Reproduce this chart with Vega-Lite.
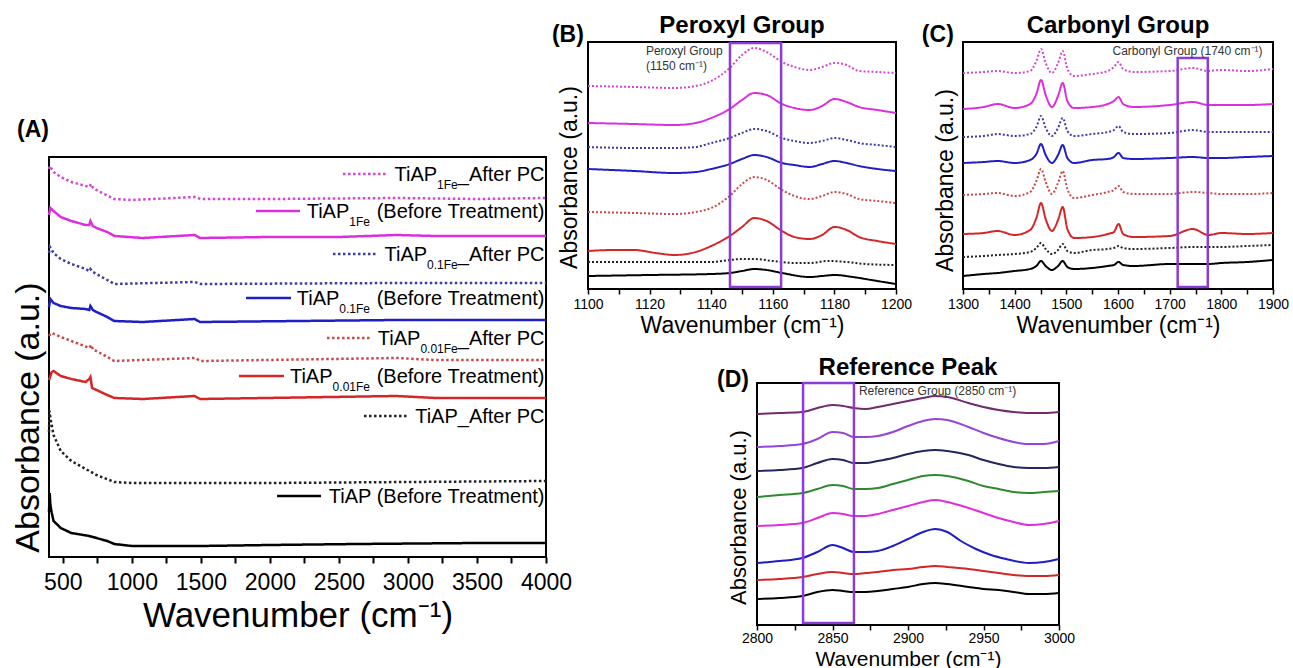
{
"$schema": "https://vega.github.io/schema/vega-lite/v6.json",
"padding": {"left": 11, "top": 13, "right": 0, "bottom": 0},
"config": {
 "font": "Liberation Sans",
 "view": {"stroke": "black", "strokeWidth": 2},
 "axis": {"grid": false, "domain": false, "labelFont": "Liberation Sans", "titleFont": "Liberation Sans", "titleFontWeight": "normal", "labelColor": "black", "titleColor": "black", "tickColor": "black", "labelFlush": false, "labelOverlap": false},
 "title": {"font": "Liberation Sans", "color": "black"},
 "text": {"font": "Liberation Sans", "color": "black"}
},
"datasets": {
 "A_lines": [
{"s":"1Fe-PC","x":400,"y":3.88},{"s":"1Fe-PC","x":407,"y":3.91},{"s":"1Fe-PC","x":433,"y":3.85},{"s":"1Fe-PC","x":485,"y":3.80},{"s":"1Fe-PC","x":562,"y":3.75},{"s":"1Fe-PC","x":640,"y":3.72},{"s":"1Fe-PC","x":692,"y":3.70},{"s":"1Fe-PC","x":705,"y":3.73},{"s":"1Fe-PC","x":720,"y":3.69},{"s":"1Fe-PC","x":744,"y":3.67},{"s":"1Fe-PC","x":800,"y":3.63},{"s":"1Fe-PC","x":873,"y":3.58},{"s":"1Fe-PC","x":1000,"y":3.57},{"s":"1Fe-PC","x":1455,"y":3.60},{"s":"1Fe-PC","x":1500,"y":3.58},{"s":"1Fe-PC","x":2000,"y":3.58},{"s":"1Fe-PC","x":2917,"y":3.59},{"s":"1Fe-PC","x":3500,"y":3.58},{"s":"1Fe-PC","x":4000,"y":3.59},
{"s":"1Fe","x":400,"y":3.42},{"s":"1Fe","x":410,"y":3.49},{"s":"1Fe","x":433,"y":3.46},{"s":"1Fe","x":485,"y":3.40},{"s":"1Fe","x":562,"y":3.36},{"s":"1Fe","x":665,"y":3.32},{"s":"1Fe","x":692,"y":3.32},{"s":"1Fe","x":700,"y":3.36},{"s":"1Fe","x":718,"y":3.31},{"s":"1Fe","x":744,"y":3.29},{"s":"1Fe","x":822,"y":3.25},{"s":"1Fe","x":873,"y":3.21},{"s":"1Fe","x":1080,"y":3.19},{"s":"1Fe","x":1455,"y":3.22},{"s":"1Fe","x":1494,"y":3.19},{"s":"1Fe","x":2000,"y":3.20},{"s":"1Fe","x":2500,"y":3.20},{"s":"1Fe","x":2917,"y":3.22},{"s":"1Fe","x":3200,"y":3.21},{"s":"1Fe","x":4000,"y":3.21},
{"s":"0.1Fe-PC","x":400,"y":3.04},{"s":"0.1Fe-PC","x":407,"y":3.10},{"s":"0.1Fe-PC","x":433,"y":3.04},{"s":"0.1Fe-PC","x":485,"y":2.98},{"s":"0.1Fe-PC","x":562,"y":2.93},{"s":"0.1Fe-PC","x":665,"y":2.88},{"s":"0.1Fe-PC","x":692,"y":2.86},{"s":"0.1Fe-PC","x":700,"y":2.88},{"s":"0.1Fe-PC","x":718,"y":2.85},{"s":"0.1Fe-PC","x":744,"y":2.83},{"s":"0.1Fe-PC","x":822,"y":2.77},{"s":"0.1Fe-PC","x":873,"y":2.73},{"s":"0.1Fe-PC","x":1455,"y":2.75},{"s":"0.1Fe-PC","x":1500,"y":2.73},{"s":"0.1Fe-PC","x":2917,"y":2.74},{"s":"0.1Fe-PC","x":4000,"y":2.74},
{"s":"0.1Fe","x":400,"y":2.50},{"s":"0.1Fe","x":410,"y":2.58},{"s":"0.1Fe","x":433,"y":2.54},{"s":"0.1Fe","x":485,"y":2.51},{"s":"0.1Fe","x":562,"y":2.49},{"s":"0.1Fe","x":665,"y":2.48},{"s":"0.1Fe","x":692,"y":2.47},{"s":"0.1Fe","x":700,"y":2.51},{"s":"0.1Fe","x":718,"y":2.47},{"s":"0.1Fe","x":744,"y":2.45},{"s":"0.1Fe","x":822,"y":2.40},{"s":"0.1Fe","x":873,"y":2.36},{"s":"0.1Fe","x":1080,"y":2.35},{"s":"0.1Fe","x":1455,"y":2.38},{"s":"0.1Fe","x":1494,"y":2.35},{"s":"0.1Fe","x":2917,"y":2.37},{"s":"0.1Fe","x":4000,"y":2.37},
{"s":"0.01Fe-PC","x":400,"y":2.21},{"s":"0.01Fe-PC","x":420,"y":2.24},{"s":"0.01Fe-PC","x":485,"y":2.20},{"s":"0.01Fe-PC","x":562,"y":2.16},{"s":"0.01Fe-PC","x":692,"y":2.09},{"s":"0.01Fe-PC","x":705,"y":2.12},{"s":"0.01Fe-PC","x":720,"y":2.07},{"s":"0.01Fe-PC","x":744,"y":2.06},{"s":"0.01Fe-PC","x":822,"y":2.00},{"s":"0.01Fe-PC","x":873,"y":1.96},{"s":"0.01Fe-PC","x":1455,"y":1.99},{"s":"0.01Fe-PC","x":1500,"y":1.96},{"s":"0.01Fe-PC","x":2917,"y":1.99},{"s":"0.01Fe-PC","x":3200,"y":1.97},{"s":"0.01Fe-PC","x":4000,"y":1.97},
{"s":"0.01Fe","x":400,"y":1.77},{"s":"0.01Fe","x":420,"y":1.85},{"s":"0.01Fe","x":433,"y":1.86},{"s":"0.01Fe","x":485,"y":1.81},{"s":"0.01Fe","x":562,"y":1.78},{"s":"0.01Fe","x":665,"y":1.75},{"s":"0.01Fe","x":692,"y":1.78},{"s":"0.01Fe","x":700,"y":1.80},{"s":"0.01Fe","x":712,"y":1.69},{"s":"0.01Fe","x":744,"y":1.67},{"s":"0.01Fe","x":822,"y":1.62},{"s":"0.01Fe","x":873,"y":1.59},{"s":"0.01Fe","x":1080,"y":1.58},{"s":"0.01Fe","x":1455,"y":1.61},{"s":"0.01Fe","x":1494,"y":1.58},{"s":"0.01Fe","x":2917,"y":1.61},{"s":"0.01Fe","x":3200,"y":1.59},{"s":"0.01Fe","x":4000,"y":1.59},
{"s":"TiAP-PC","x":400,"y":1.25},{"s":"TiAP-PC","x":404,"y":1.46},{"s":"TiAP-PC","x":410,"y":1.39},{"s":"TiAP-PC","x":433,"y":1.22},{"s":"TiAP-PC","x":485,"y":1.06},{"s":"TiAP-PC","x":562,"y":0.96},{"s":"TiAP-PC","x":692,"y":0.86},{"s":"TiAP-PC","x":744,"y":0.82},{"s":"TiAP-PC","x":873,"y":0.75},{"s":"TiAP-PC","x":1000,"y":0.74},{"s":"TiAP-PC","x":2000,"y":0.74},{"s":"TiAP-PC","x":4000,"y":0.76},
{"s":"TiAP","x":400,"y":0.45},{"s":"TiAP","x":405,"y":0.64},{"s":"TiAP","x":410,"y":0.52},{"s":"TiAP","x":420,"y":0.44},{"s":"TiAP","x":433,"y":0.36},{"s":"TiAP","x":485,"y":0.29},{"s":"TiAP","x":562,"y":0.24},{"s":"TiAP","x":692,"y":0.21},{"s":"TiAP","x":822,"y":0.16},{"s":"TiAP","x":873,"y":0.13},{"s":"TiAP","x":1000,"y":0.11},{"s":"TiAP","x":1500,"y":0.11},{"s":"TiAP","x":2000,"y":0.12},{"s":"TiAP","x":2630,"y":0.13},{"s":"TiAP","x":3500,"y":0.14},{"s":"TiAP","x":4000,"y":0.14}
 ],
 "A_leg": [
{"s":"1Fe-PC","x":2530,"x2":2856,"y":3.83},{"s":"1Fe","x":1899,"x2":2218,"y":3.46},{"s":"0.1Fe-PC","x":2457,"x2":2783,"y":3.03},{"s":"0.1Fe","x":1827,"x2":2153,"y":2.59},{"s":"0.01Fe-PC","x":2414,"x2":2740,"y":2.19},{"s":"0.01Fe","x":1776,"x2":2102,"y":1.81},{"s":"TiAP-PC","x":2682,"x2":3008,"y":1.41},{"s":"TiAP","x":2052,"x2":2370,"y":0.61}
 ],
 "A_txt": [
{"t":"TiAP","x":3211,"y":3.83},{"t":"_After PC","x":3989,"y":3.83},
{"t":"TiAP","x":2575,"y":3.46},{"t":"(Before Treatment)","x":3989,"y":3.46},
{"t":"TiAP","x":3139,"y":3.03},{"t":"_After PC","x":3989,"y":3.03},
{"t":"TiAP","x":2503,"y":2.59},{"t":"(Before Treatment)","x":3989,"y":2.59},
{"t":"TiAP","x":3090,"y":2.19},{"t":"_After PC","x":3989,"y":2.19},
{"t":"TiAP","x":2454,"y":1.81},{"t":"(Before Treatment)","x":3989,"y":1.81},
{"t":"TiAP_After PC","x":3989,"y":1.41},
{"t":"TiAP (Before Treatment)","x":3989,"y":0.61}
 ],
 "A_sub": [
{"t":"1Fe","x":3361,"y":3.83},{"t":"1Fe","x":2725,"y":3.46},{"t":"0.1Fe","x":3361,"y":3.03},{"t":"0.1Fe","x":2725,"y":2.59},{"t":"0.01Fe","x":3361,"y":2.19},{"t":"0.01Fe","x":2725,"y":1.81}
 ],
 "B_lines": [
{"s":"1Fe-PC","x":1100,"y":2.03},{"s":"1Fe-PC","x":1115,"y":2.02},{"s":"1Fe-PC","x":1128,"y":2.01},{"s":"1Fe-PC","x":1135,"y":2.03},{"s":"1Fe-PC","x":1140,"y":2.08},{"s":"1Fe-PC","x":1146,"y":2.21},{"s":"1Fe-PC","x":1150,"y":2.34},{"s":"1Fe-PC","x":1154,"y":2.41},{"s":"1Fe-PC","x":1158,"y":2.37},{"s":"1Fe-PC","x":1163,"y":2.27},{"s":"1Fe-PC","x":1167,"y":2.22},{"s":"1Fe-PC","x":1172,"y":2.19},{"s":"1Fe-PC","x":1176,"y":2.22},{"s":"1Fe-PC","x":1180,"y":2.26},{"s":"1Fe-PC","x":1184,"y":2.24},{"s":"1Fe-PC","x":1188,"y":2.18},{"s":"1Fe-PC","x":1194,"y":2.17},{"s":"1Fe-PC","x":1200,"y":2.16},
{"s":"1Fe","x":1100,"y":1.66},{"s":"1Fe","x":1115,"y":1.65},{"s":"1Fe","x":1128,"y":1.64},{"s":"1Fe","x":1135,"y":1.66},{"s":"1Fe","x":1140,"y":1.71},{"s":"1Fe","x":1146,"y":1.80},{"s":"1Fe","x":1150,"y":1.89},{"s":"1Fe","x":1154,"y":1.96},{"s":"1Fe","x":1158,"y":1.94},{"s":"1Fe","x":1163,"y":1.85},{"s":"1Fe","x":1167,"y":1.81},{"s":"1Fe","x":1172,"y":1.79},{"s":"1Fe","x":1176,"y":1.83},{"s":"1Fe","x":1180,"y":1.90},{"s":"1Fe","x":1184,"y":1.87},{"s":"1Fe","x":1188,"y":1.82},{"s":"1Fe","x":1194,"y":1.79},{"s":"1Fe","x":1200,"y":1.76},
{"s":"0.1Fe-PC","x":1100,"y":1.42},{"s":"0.1Fe-PC","x":1115,"y":1.41},{"s":"0.1Fe-PC","x":1128,"y":1.41},{"s":"0.1Fe-PC","x":1135,"y":1.42},{"s":"0.1Fe-PC","x":1140,"y":1.46},{"s":"0.1Fe-PC","x":1146,"y":1.51},{"s":"0.1Fe-PC","x":1150,"y":1.56},{"s":"0.1Fe-PC","x":1154,"y":1.60},{"s":"0.1Fe-PC","x":1158,"y":1.58},{"s":"0.1Fe-PC","x":1163,"y":1.51},{"s":"0.1Fe-PC","x":1167,"y":1.48},{"s":"0.1Fe-PC","x":1172,"y":1.46},{"s":"0.1Fe-PC","x":1176,"y":1.48},{"s":"0.1Fe-PC","x":1180,"y":1.51},{"s":"0.1Fe-PC","x":1184,"y":1.49},{"s":"0.1Fe-PC","x":1188,"y":1.46},{"s":"0.1Fe-PC","x":1194,"y":1.44},{"s":"0.1Fe-PC","x":1200,"y":1.42},
{"s":"0.1Fe","x":1100,"y":1.20},{"s":"0.1Fe","x":1115,"y":1.18},{"s":"0.1Fe","x":1128,"y":1.16},{"s":"0.1Fe","x":1135,"y":1.17},{"s":"0.1Fe","x":1140,"y":1.20},{"s":"0.1Fe","x":1146,"y":1.25},{"s":"0.1Fe","x":1150,"y":1.30},{"s":"0.1Fe","x":1154,"y":1.34},{"s":"0.1Fe","x":1158,"y":1.32},{"s":"0.1Fe","x":1163,"y":1.26},{"s":"0.1Fe","x":1167,"y":1.24},{"s":"0.1Fe","x":1172,"y":1.22},{"s":"0.1Fe","x":1176,"y":1.25},{"s":"0.1Fe","x":1180,"y":1.28},{"s":"0.1Fe","x":1184,"y":1.26},{"s":"0.1Fe","x":1188,"y":1.23},{"s":"0.1Fe","x":1194,"y":1.20},{"s":"0.1Fe","x":1200,"y":1.18},
{"s":"0.01Fe-PC","x":1100,"y":0.77},{"s":"0.01Fe-PC","x":1115,"y":0.76},{"s":"0.01Fe-PC","x":1128,"y":0.75},{"s":"0.01Fe-PC","x":1135,"y":0.77},{"s":"0.01Fe-PC","x":1140,"y":0.81},{"s":"0.01Fe-PC","x":1146,"y":0.93},{"s":"0.01Fe-PC","x":1150,"y":1.05},{"s":"0.01Fe-PC","x":1154,"y":1.12},{"s":"0.01Fe-PC","x":1158,"y":1.09},{"s":"0.01Fe-PC","x":1163,"y":0.99},{"s":"0.01Fe-PC","x":1167,"y":0.93},{"s":"0.01Fe-PC","x":1172,"y":0.90},{"s":"0.01Fe-PC","x":1176,"y":0.93},{"s":"0.01Fe-PC","x":1180,"y":0.97},{"s":"0.01Fe-PC","x":1184,"y":0.95},{"s":"0.01Fe-PC","x":1188,"y":0.90},{"s":"0.01Fe-PC","x":1194,"y":0.88},{"s":"0.01Fe-PC","x":1200,"y":0.86},
{"s":"0.01Fe","x":1100,"y":0.38},{"s":"0.01Fe","x":1108,"y":0.39},{"s":"0.01Fe","x":1115,"y":0.39},{"s":"0.01Fe","x":1122,"y":0.36},{"s":"0.01Fe","x":1128,"y":0.34},{"s":"0.01Fe","x":1135,"y":0.37},{"s":"0.01Fe","x":1140,"y":0.43},{"s":"0.01Fe","x":1146,"y":0.53},{"s":"0.01Fe","x":1150,"y":0.62},{"s":"0.01Fe","x":1154,"y":0.71},{"s":"0.01Fe","x":1158,"y":0.68},{"s":"0.01Fe","x":1163,"y":0.58},{"s":"0.01Fe","x":1167,"y":0.52},{"s":"0.01Fe","x":1172,"y":0.50},{"s":"0.01Fe","x":1176,"y":0.54},{"s":"0.01Fe","x":1180,"y":0.62},{"s":"0.01Fe","x":1184,"y":0.59},{"s":"0.01Fe","x":1188,"y":0.52},{"s":"0.01Fe","x":1194,"y":0.48},{"s":"0.01Fe","x":1200,"y":0.45},
{"s":"TiAP-PC","x":1100,"y":0.27},{"s":"TiAP-PC","x":1120,"y":0.27},{"s":"TiAP-PC","x":1140,"y":0.27},{"s":"TiAP-PC","x":1146,"y":0.29},{"s":"TiAP-PC","x":1150,"y":0.30},{"s":"TiAP-PC","x":1154,"y":0.30},{"s":"TiAP-PC","x":1160,"y":0.28},{"s":"TiAP-PC","x":1167,"y":0.26},{"s":"TiAP-PC","x":1172,"y":0.26},{"s":"TiAP-PC","x":1178,"y":0.28},{"s":"TiAP-PC","x":1184,"y":0.27},{"s":"TiAP-PC","x":1190,"y":0.25},{"s":"TiAP-PC","x":1200,"y":0.24},
{"s":"TiAP","x":1100,"y":0.13},{"s":"TiAP","x":1120,"y":0.14},{"s":"TiAP","x":1140,"y":0.15},{"s":"TiAP","x":1146,"y":0.16},{"s":"TiAP","x":1150,"y":0.18},{"s":"TiAP","x":1154,"y":0.20},{"s":"TiAP","x":1158,"y":0.19},{"s":"TiAP","x":1163,"y":0.16},{"s":"TiAP","x":1172,"y":0.12},{"s":"TiAP","x":1176,"y":0.13},{"s":"TiAP","x":1180,"y":0.14},{"s":"TiAP","x":1186,"y":0.12},{"s":"TiAP","x":1192,"y":0.09},{"s":"TiAP","x":1200,"y":0.05}
 ],
 "C_lines": [
{"s":"1Fe-PC","x":1300,"y":2.16},{"s":"1Fe-PC","x":1340,"y":2.17},{"s":"1Fe-PC","x":1367,"y":2.18},{"s":"1Fe-PC","x":1400,"y":2.16},{"s":"1Fe-PC","x":1430,"y":2.18},{"s":"1Fe-PC","x":1442,"y":2.28},{"s":"1Fe-PC","x":1451,"y":2.40},{"s":"1Fe-PC","x":1460,"y":2.26},{"s":"1Fe-PC","x":1472,"y":2.16},{"s":"1Fe-PC","x":1484,"y":2.26},{"s":"1Fe-PC","x":1493,"y":2.38},{"s":"1Fe-PC","x":1502,"y":2.20},{"s":"1Fe-PC","x":1515,"y":2.13},{"s":"1Fe-PC","x":1550,"y":2.15},{"s":"1Fe-PC","x":1580,"y":2.18},{"s":"1Fe-PC","x":1592,"y":2.22},{"s":"1Fe-PC","x":1601,"y":2.27},{"s":"1Fe-PC","x":1610,"y":2.20},{"s":"1Fe-PC","x":1630,"y":2.17},{"s":"1Fe-PC","x":1700,"y":2.18},{"s":"1Fe-PC","x":1745,"y":2.21},{"s":"1Fe-PC","x":1775,"y":2.18},{"s":"1Fe-PC","x":1800,"y":2.19},{"s":"1Fe-PC","x":1850,"y":2.18},{"s":"1Fe-PC","x":1900,"y":2.20},
{"s":"1Fe","x":1300,"y":1.80},{"s":"1Fe","x":1340,"y":1.82},{"s":"1Fe","x":1367,"y":1.85},{"s":"1Fe","x":1400,"y":1.81},{"s":"1Fe","x":1430,"y":1.85},{"s":"1Fe","x":1442,"y":1.95},{"s":"1Fe","x":1451,"y":2.09},{"s":"1Fe","x":1460,"y":1.94},{"s":"1Fe","x":1472,"y":1.82},{"s":"1Fe","x":1484,"y":1.93},{"s":"1Fe","x":1493,"y":2.06},{"s":"1Fe","x":1502,"y":1.88},{"s":"1Fe","x":1515,"y":1.81},{"s":"1Fe","x":1550,"y":1.82},{"s":"1Fe","x":1580,"y":1.85},{"s":"1Fe","x":1592,"y":1.88},{"s":"1Fe","x":1601,"y":1.92},{"s":"1Fe","x":1610,"y":1.85},{"s":"1Fe","x":1630,"y":1.82},{"s":"1Fe","x":1700,"y":1.84},{"s":"1Fe","x":1745,"y":1.87},{"s":"1Fe","x":1775,"y":1.84},{"s":"1Fe","x":1800,"y":1.84},{"s":"1Fe","x":1850,"y":1.84},{"s":"1Fe","x":1900,"y":1.85},
{"s":"0.1Fe-PC","x":1300,"y":1.52},{"s":"0.1Fe-PC","x":1340,"y":1.53},{"s":"0.1Fe-PC","x":1367,"y":1.55},{"s":"0.1Fe-PC","x":1400,"y":1.53},{"s":"0.1Fe-PC","x":1430,"y":1.55},{"s":"0.1Fe-PC","x":1442,"y":1.62},{"s":"0.1Fe-PC","x":1451,"y":1.73},{"s":"0.1Fe-PC","x":1460,"y":1.61},{"s":"0.1Fe-PC","x":1472,"y":1.53},{"s":"0.1Fe-PC","x":1484,"y":1.61},{"s":"0.1Fe-PC","x":1493,"y":1.71},{"s":"0.1Fe-PC","x":1502,"y":1.58},{"s":"0.1Fe-PC","x":1515,"y":1.53},{"s":"0.1Fe-PC","x":1550,"y":1.55},{"s":"0.1Fe-PC","x":1580,"y":1.57},{"s":"0.1Fe-PC","x":1592,"y":1.59},{"s":"0.1Fe-PC","x":1601,"y":1.63},{"s":"0.1Fe-PC","x":1610,"y":1.57},{"s":"0.1Fe-PC","x":1630,"y":1.55},{"s":"0.1Fe-PC","x":1700,"y":1.56},{"s":"0.1Fe-PC","x":1745,"y":1.59},{"s":"0.1Fe-PC","x":1775,"y":1.57},{"s":"0.1Fe-PC","x":1800,"y":1.57},{"s":"0.1Fe-PC","x":1850,"y":1.57},{"s":"0.1Fe-PC","x":1900,"y":1.57},
{"s":"0.1Fe","x":1300,"y":1.26},{"s":"0.1Fe","x":1340,"y":1.27},{"s":"0.1Fe","x":1367,"y":1.28},{"s":"0.1Fe","x":1400,"y":1.26},{"s":"0.1Fe","x":1430,"y":1.29},{"s":"0.1Fe","x":1442,"y":1.35},{"s":"0.1Fe","x":1451,"y":1.45},{"s":"0.1Fe","x":1460,"y":1.34},{"s":"0.1Fe","x":1472,"y":1.26},{"s":"0.1Fe","x":1484,"y":1.34},{"s":"0.1Fe","x":1493,"y":1.44},{"s":"0.1Fe","x":1502,"y":1.31},{"s":"0.1Fe","x":1515,"y":1.26},{"s":"0.1Fe","x":1550,"y":1.29},{"s":"0.1Fe","x":1580,"y":1.30},{"s":"0.1Fe","x":1592,"y":1.32},{"s":"0.1Fe","x":1601,"y":1.36},{"s":"0.1Fe","x":1610,"y":1.31},{"s":"0.1Fe","x":1630,"y":1.30},{"s":"0.1Fe","x":1700,"y":1.31},{"s":"0.1Fe","x":1745,"y":1.32},{"s":"0.1Fe","x":1775,"y":1.31},{"s":"0.1Fe","x":1800,"y":1.31},{"s":"0.1Fe","x":1850,"y":1.32},{"s":"0.1Fe","x":1900,"y":1.33},
{"s":"0.01Fe-PC","x":1300,"y":0.94},{"s":"0.01Fe-PC","x":1340,"y":0.95},{"s":"0.01Fe-PC","x":1367,"y":0.96},{"s":"0.01Fe-PC","x":1400,"y":0.93},{"s":"0.01Fe-PC","x":1430,"y":0.97},{"s":"0.01Fe-PC","x":1442,"y":1.08},{"s":"0.01Fe-PC","x":1451,"y":1.20},{"s":"0.01Fe-PC","x":1460,"y":1.07},{"s":"0.01Fe-PC","x":1472,"y":0.95},{"s":"0.01Fe-PC","x":1484,"y":1.06},{"s":"0.01Fe-PC","x":1493,"y":1.18},{"s":"0.01Fe-PC","x":1502,"y":1.00},{"s":"0.01Fe-PC","x":1515,"y":0.91},{"s":"0.01Fe-PC","x":1550,"y":0.94},{"s":"0.01Fe-PC","x":1580,"y":0.97},{"s":"0.01Fe-PC","x":1592,"y":0.99},{"s":"0.01Fe-PC","x":1601,"y":1.03},{"s":"0.01Fe-PC","x":1610,"y":0.97},{"s":"0.01Fe-PC","x":1630,"y":0.95},{"s":"0.01Fe-PC","x":1700,"y":0.95},{"s":"0.01Fe-PC","x":1745,"y":0.97},{"s":"0.01Fe-PC","x":1775,"y":0.96},{"s":"0.01Fe-PC","x":1800,"y":0.95},{"s":"0.01Fe-PC","x":1850,"y":0.95},{"s":"0.01Fe-PC","x":1900,"y":0.96},
{"s":"0.01Fe","x":1300,"y":0.55},{"s":"0.01Fe","x":1340,"y":0.56},{"s":"0.01Fe","x":1367,"y":0.58},{"s":"0.01Fe","x":1400,"y":0.54},{"s":"0.01Fe","x":1430,"y":0.59},{"s":"0.01Fe","x":1442,"y":0.71},{"s":"0.01Fe","x":1451,"y":0.86},{"s":"0.01Fe","x":1460,"y":0.70},{"s":"0.01Fe","x":1472,"y":0.58},{"s":"0.01Fe","x":1484,"y":0.69},{"s":"0.01Fe","x":1493,"y":0.82},{"s":"0.01Fe","x":1502,"y":0.60},{"s":"0.01Fe","x":1515,"y":0.51},{"s":"0.01Fe","x":1550,"y":0.52},{"s":"0.01Fe","x":1580,"y":0.55},{"s":"0.01Fe","x":1592,"y":0.57},{"s":"0.01Fe","x":1601,"y":0.65},{"s":"0.01Fe","x":1610,"y":0.55},{"s":"0.01Fe","x":1630,"y":0.52},{"s":"0.01Fe","x":1700,"y":0.53},{"s":"0.01Fe","x":1745,"y":0.60},{"s":"0.01Fe","x":1775,"y":0.54},{"s":"0.01Fe","x":1800,"y":0.56},{"s":"0.01Fe","x":1850,"y":0.55},{"s":"0.01Fe","x":1900,"y":0.56},
{"s":"TiAP-PC","x":1300,"y":0.32},{"s":"TiAP-PC","x":1340,"y":0.33},{"s":"TiAP-PC","x":1367,"y":0.34},{"s":"TiAP-PC","x":1400,"y":0.35},{"s":"TiAP-PC","x":1430,"y":0.37},{"s":"TiAP-PC","x":1442,"y":0.41},{"s":"TiAP-PC","x":1451,"y":0.46},{"s":"TiAP-PC","x":1460,"y":0.40},{"s":"TiAP-PC","x":1472,"y":0.35},{"s":"TiAP-PC","x":1484,"y":0.39},{"s":"TiAP-PC","x":1493,"y":0.45},{"s":"TiAP-PC","x":1502,"y":0.38},{"s":"TiAP-PC","x":1515,"y":0.36},{"s":"TiAP-PC","x":1550,"y":0.39},{"s":"TiAP-PC","x":1580,"y":0.40},{"s":"TiAP-PC","x":1592,"y":0.41},{"s":"TiAP-PC","x":1601,"y":0.43},{"s":"TiAP-PC","x":1610,"y":0.41},{"s":"TiAP-PC","x":1630,"y":0.40},{"s":"TiAP-PC","x":1700,"y":0.41},{"s":"TiAP-PC","x":1745,"y":0.42},{"s":"TiAP-PC","x":1775,"y":0.42},{"s":"TiAP-PC","x":1800,"y":0.42},{"s":"TiAP-PC","x":1850,"y":0.43},{"s":"TiAP-PC","x":1900,"y":0.44},
{"s":"TiAP","x":1300,"y":0.13},{"s":"TiAP","x":1340,"y":0.15},{"s":"TiAP","x":1367,"y":0.16},{"s":"TiAP","x":1400,"y":0.18},{"s":"TiAP","x":1430,"y":0.20},{"s":"TiAP","x":1442,"y":0.23},{"s":"TiAP","x":1451,"y":0.28},{"s":"TiAP","x":1460,"y":0.23},{"s":"TiAP","x":1472,"y":0.19},{"s":"TiAP","x":1484,"y":0.23},{"s":"TiAP","x":1493,"y":0.28},{"s":"TiAP","x":1502,"y":0.22},{"s":"TiAP","x":1515,"y":0.20},{"s":"TiAP","x":1550,"y":0.21},{"s":"TiAP","x":1580,"y":0.23},{"s":"TiAP","x":1592,"y":0.24},{"s":"TiAP","x":1601,"y":0.27},{"s":"TiAP","x":1610,"y":0.24},{"s":"TiAP","x":1630,"y":0.23},{"s":"TiAP","x":1700,"y":0.25},{"s":"TiAP","x":1745,"y":0.25},{"s":"TiAP","x":1775,"y":0.25},{"s":"TiAP","x":1800,"y":0.26},{"s":"TiAP","x":1850,"y":0.27},{"s":"TiAP","x":1900,"y":0.29}
 ],
 "D_lines": [
{"s":"D1","x":2800,"y":2.11},{"s":"D1","x":2815,"y":2.12},{"s":"D1","x":2830,"y":2.13},{"s":"D1","x":2840,"y":2.17},{"s":"D1","x":2850,"y":2.20},{"s":"D1","x":2857,"y":2.19},{"s":"D1","x":2864,"y":2.17},{"s":"D1","x":2872,"y":2.16},{"s":"D1","x":2880,"y":2.18},{"s":"D1","x":2890,"y":2.21},{"s":"D1","x":2900,"y":2.24},{"s":"D1","x":2910,"y":2.27},{"s":"D1","x":2918,"y":2.29},{"s":"D1","x":2926,"y":2.28},{"s":"D1","x":2940,"y":2.22},{"s":"D1","x":2950,"y":2.18},{"s":"D1","x":2960,"y":2.15},{"s":"D1","x":2970,"y":2.13},{"s":"D1","x":2980,"y":2.12},{"s":"D1","x":2990,"y":2.12},{"s":"D1","x":3000,"y":2.13},
{"s":"D2","x":2800,"y":1.78},{"s":"D2","x":2815,"y":1.79},{"s":"D2","x":2830,"y":1.81},{"s":"D2","x":2840,"y":1.86},{"s":"D2","x":2850,"y":1.93},{"s":"D2","x":2857,"y":1.92},{"s":"D2","x":2864,"y":1.88},{"s":"D2","x":2872,"y":1.88},{"s":"D2","x":2880,"y":1.89},{"s":"D2","x":2890,"y":1.93},{"s":"D2","x":2900,"y":1.99},{"s":"D2","x":2910,"y":2.04},{"s":"D2","x":2918,"y":2.06},{"s":"D2","x":2926,"y":2.05},{"s":"D2","x":2940,"y":1.98},{"s":"D2","x":2950,"y":1.92},{"s":"D2","x":2960,"y":1.87},{"s":"D2","x":2970,"y":1.83},{"s":"D2","x":2980,"y":1.81},{"s":"D2","x":2990,"y":1.81},{"s":"D2","x":3000,"y":1.84},
{"s":"D3","x":2800,"y":1.54},{"s":"D3","x":2815,"y":1.55},{"s":"D3","x":2830,"y":1.57},{"s":"D3","x":2840,"y":1.62},{"s":"D3","x":2850,"y":1.66},{"s":"D3","x":2857,"y":1.65},{"s":"D3","x":2864,"y":1.62},{"s":"D3","x":2872,"y":1.62},{"s":"D3","x":2880,"y":1.64},{"s":"D3","x":2890,"y":1.67},{"s":"D3","x":2900,"y":1.71},{"s":"D3","x":2910,"y":1.74},{"s":"D3","x":2918,"y":1.75},{"s":"D3","x":2926,"y":1.74},{"s":"D3","x":2940,"y":1.70},{"s":"D3","x":2950,"y":1.65},{"s":"D3","x":2960,"y":1.61},{"s":"D3","x":2970,"y":1.58},{"s":"D3","x":2980,"y":1.57},{"s":"D3","x":2990,"y":1.57},{"s":"D3","x":3000,"y":1.58},
{"s":"D4","x":2800,"y":1.28},{"s":"D4","x":2815,"y":1.30},{"s":"D4","x":2830,"y":1.32},{"s":"D4","x":2840,"y":1.36},{"s":"D4","x":2850,"y":1.40},{"s":"D4","x":2857,"y":1.39},{"s":"D4","x":2864,"y":1.36},{"s":"D4","x":2872,"y":1.36},{"s":"D4","x":2880,"y":1.37},{"s":"D4","x":2890,"y":1.41},{"s":"D4","x":2900,"y":1.45},{"s":"D4","x":2910,"y":1.49},{"s":"D4","x":2918,"y":1.50},{"s":"D4","x":2926,"y":1.49},{"s":"D4","x":2940,"y":1.44},{"s":"D4","x":2950,"y":1.39},{"s":"D4","x":2960,"y":1.36},{"s":"D4","x":2970,"y":1.33},{"s":"D4","x":2980,"y":1.32},{"s":"D4","x":2990,"y":1.33},{"s":"D4","x":3000,"y":1.34},
{"s":"D5","x":2800,"y":0.99},{"s":"D5","x":2815,"y":1.00},{"s":"D5","x":2830,"y":1.02},{"s":"D5","x":2840,"y":1.07},{"s":"D5","x":2850,"y":1.12},{"s":"D5","x":2857,"y":1.11},{"s":"D5","x":2864,"y":1.09},{"s":"D5","x":2872,"y":1.09},{"s":"D5","x":2880,"y":1.11},{"s":"D5","x":2890,"y":1.15},{"s":"D5","x":2900,"y":1.19},{"s":"D5","x":2910,"y":1.23},{"s":"D5","x":2918,"y":1.25},{"s":"D5","x":2926,"y":1.23},{"s":"D5","x":2940,"y":1.17},{"s":"D5","x":2950,"y":1.12},{"s":"D5","x":2960,"y":1.07},{"s":"D5","x":2970,"y":1.03},{"s":"D5","x":2980,"y":1.00},{"s":"D5","x":2990,"y":1.01},{"s":"D5","x":3000,"y":1.04},
{"s":"D6","x":2800,"y":0.62},{"s":"D6","x":2815,"y":0.64},{"s":"D6","x":2830,"y":0.67},{"s":"D6","x":2840,"y":0.73},{"s":"D6","x":2850,"y":0.80},{"s":"D6","x":2857,"y":0.77},{"s":"D6","x":2864,"y":0.73},{"s":"D6","x":2872,"y":0.73},{"s":"D6","x":2880,"y":0.74},{"s":"D6","x":2890,"y":0.79},{"s":"D6","x":2900,"y":0.86},{"s":"D6","x":2910,"y":0.93},{"s":"D6","x":2918,"y":0.96},{"s":"D6","x":2926,"y":0.93},{"s":"D6","x":2935,"y":0.84},{"s":"D6","x":2945,"y":0.76},{"s":"D6","x":2955,"y":0.70},{"s":"D6","x":2965,"y":0.66},{"s":"D6","x":2980,"y":0.62},{"s":"D6","x":2990,"y":0.63},{"s":"D6","x":3000,"y":0.66},
{"s":"D7","x":2800,"y":0.45},{"s":"D7","x":2815,"y":0.46},{"s":"D7","x":2830,"y":0.48},{"s":"D7","x":2840,"y":0.51},{"s":"D7","x":2850,"y":0.53},{"s":"D7","x":2857,"y":0.52},{"s":"D7","x":2864,"y":0.51},{"s":"D7","x":2872,"y":0.52},{"s":"D7","x":2880,"y":0.53},{"s":"D7","x":2890,"y":0.55},{"s":"D7","x":2900,"y":0.56},{"s":"D7","x":2910,"y":0.58},{"s":"D7","x":2918,"y":0.59},{"s":"D7","x":2926,"y":0.58},{"s":"D7","x":2940,"y":0.56},{"s":"D7","x":2950,"y":0.54},{"s":"D7","x":2960,"y":0.52},{"s":"D7","x":2970,"y":0.50},{"s":"D7","x":2980,"y":0.49},{"s":"D7","x":2990,"y":0.49},{"s":"D7","x":3000,"y":0.50},
{"s":"D8","x":2800,"y":0.26},{"s":"D8","x":2815,"y":0.27},{"s":"D8","x":2830,"y":0.29},{"s":"D8","x":2840,"y":0.33},{"s":"D8","x":2850,"y":0.35},{"s":"D8","x":2857,"y":0.34},{"s":"D8","x":2864,"y":0.33},{"s":"D8","x":2872,"y":0.33},{"s":"D8","x":2880,"y":0.34},{"s":"D8","x":2890,"y":0.36},{"s":"D8","x":2900,"y":0.38},{"s":"D8","x":2910,"y":0.41},{"s":"D8","x":2918,"y":0.42},{"s":"D8","x":2926,"y":0.41},{"s":"D8","x":2940,"y":0.38},{"s":"D8","x":2950,"y":0.36},{"s":"D8","x":2960,"y":0.35},{"s":"D8","x":2970,"y":0.33},{"s":"D8","x":2980,"y":0.31},{"s":"D8","x":2990,"y":0.31},{"s":"D8","x":3000,"y":0.32}
 ]
},
"hconcat": [
 {
  "width": 497, "height": 515,
  "view": {"stroke": null},
  "encoding": {
   "x": {"field": "x", "type": "quantitative", "scale": {"domain": [400, 4000], "nice": false, "zero": false},
    "axis": {"title": "Wavenumber (cm⁻¹)", "values": [500,750,1000,1250,1500,1750,2000,2250,2500,2750,3000,3250,3500,3750,4000], "format": "d", "labelExpr": "datum.value % 500 === 0 ? datum.label : ''", "labelFontSize": 23, "titleFontSize": 35, "tickSize": 6, "tickWidth": 2, "labelPadding": 8, "titlePadding": 4}},
   "y": {"field": "y", "type": "quantitative", "scale": {"domain": [0, 5.15], "nice": false, "zero": false},
    "axis": {"title": "Absorbance (a.u.)", "titleFontSize": 34, "labels": false, "ticks": false, "titleY": 375, "titlePadding": 4}}
  },
  "layer": [
   {"data": {"values": [{"x": 400, "x2": 4000, "y": 0, "y2": 4.00}]},
    "mark": {"type": "rect", "fill": "transparent", "stroke": "black", "strokeWidth": 2},
    "encoding": {"x2": {"field": "x2"}, "y2": {"field": "y2"}}},
   {"data": {"name": "A_lines"},
    "mark": {"type": "line", "strokeWidth": 2.5},
    "encoding": {
     "color": {"field": "s", "type": "nominal", "legend": null, "scale": {"domain": ["1Fe-PC","1Fe","0.1Fe-PC","0.1Fe","0.01Fe-PC","0.01Fe","TiAP-PC","TiAP"], "range": ["#D247D2","#DD2EDD","#3C3CA6","#1E1EC4","#C94848","#D42626","#222222","#000000"]}},
     "strokeDash": {"field": "s", "type": "nominal", "legend": null, "scale": {"domain": ["1Fe-PC","1Fe","0.1Fe-PC","0.1Fe","0.01Fe-PC","0.01Fe","TiAP-PC","TiAP"], "range": [[2.5,2.5],[1,0],[2.5,2.5],[1,0],[2.5,2.5],[1,0],[2.5,2.5],[1,0]]}}
    }},
   {"data": {"name": "A_leg"},
    "mark": {"type": "rule", "strokeWidth": 2.5},
    "encoding": {
     "x2": {"field": "x2"},
     "color": {"field": "s", "type": "nominal", "legend": null, "scale": {"domain": ["1Fe-PC","1Fe","0.1Fe-PC","0.1Fe","0.01Fe-PC","0.01Fe","TiAP-PC","TiAP"], "range": ["#D247D2","#DD2EDD","#3C3CA6","#1E1EC4","#C94848","#D42626","#222222","#000000"]}},
     "strokeDash": {"field": "s", "type": "nominal", "legend": null, "scale": {"domain": ["1Fe-PC","1Fe","0.1Fe-PC","0.1Fe","0.01Fe-PC","0.01Fe","TiAP-PC","TiAP"], "range": [[2.5,2.5],[1,0],[2.5,2.5],[1,0],[2.5,2.5],[1,0],[2.5,2.5],[1,0]]}}
    }},
   {"data": {"name": "A_txt"},
    "mark": {"type": "text", "align": "right", "baseline": "alphabetic", "dy": 7, "fontSize": 20, "font": "Liberation Sans", "color": "black"},
    "encoding": {"text": {"field": "t"}}},
   {"data": {"name": "A_sub"},
    "mark": {"type": "text", "align": "right", "baseline": "alphabetic", "dy": 15, "fontSize": 12, "font": "Liberation Sans", "color": "black"},
    "encoding": {"text": {"field": "t"}}},
   {"data": {"values": [{"t": "(A)", "x": 168, "y": 4.20}]},
    "mark": {"type": "text", "align": "left", "baseline": "alphabetic", "fontSize": 23, "fontWeight": "bold", "font": "Liberation Sans", "color": "black"},
    "encoding": {"text": {"field": "t"}}}
  ]
 },
 {
  "spacing": 17,
  "vconcat": [
   {
    "spacing": 7,
    "hconcat": [
     {
      "width": 308, "height": 247,
      "title": {"text": "Peroxyl Group", "fontSize": 24, "fontWeight": "bold", "anchor": "middle", "frame": "group", "baseline": "alphabetic", "offset": -33},
      "encoding": {
       "x": {"field": "x", "type": "quantitative", "scale": {"domain": [1100, 1200], "nice": false, "zero": false},
        "axis": {"title": "Wavenumber (cm⁻¹)", "values": [1100,1110,1120,1130,1140,1150,1160,1170,1180,1190,1200], "format": "d", "labelExpr": "datum.value % 20 === 0 ? datum.label : ''", "labelFontSize": 14, "titleFontSize": 23, "tickSize": 5, "tickWidth": 1.5, "labelPadding": 3, "titlePadding": 3}},
       "y": {"field": "y", "type": "quantitative", "scale": {"domain": [0, 2.47], "nice": false, "zero": false},
        "axis": {"title": "Absorbance (a.u.)", "titleFontSize": 23, "labels": false, "ticks": false, "titleY": 135, "titlePadding": 7}}
      },
      "layer": [
       {"data": {"name": "B_lines"},
        "mark": {"type": "line", "strokeWidth": 2, "interpolate": "monotone"},
        "encoding": {
         "color": {"field": "s", "type": "nominal", "legend": null, "scale": {"domain": ["1Fe-PC","1Fe","0.1Fe-PC","0.1Fe","0.01Fe-PC","0.01Fe","TiAP-PC","TiAP"], "range": ["#D247D2","#DD2EDD","#3C3CA6","#1E1EC4","#C94848","#D42626","#222222","#000000"]}},
         "strokeDash": {"field": "s", "type": "nominal", "legend": null, "scale": {"domain": ["1Fe-PC","1Fe","0.1Fe-PC","0.1Fe","0.01Fe-PC","0.01Fe","TiAP-PC","TiAP"], "range": [[2,2],[1,0],[2,2],[1,0],[2,2],[1,0],[2,2],[1,0]]}}
        }},
       {"data": {"values": [{"x": 1146.1, "x2": 1162.7, "y": 0.02, "y2": 2.46}]},
        "mark": {"type": "rect", "fill": "transparent", "stroke": "#8C3CD6", "strokeWidth": 2.5},
        "encoding": {"x2": {"field": "x2"}, "y2": {"field": "y2"}}},
       {"data": {"values": [{"t": "Peroxyl Group", "x": 1118.8, "y": 2.34}, {"t": "(1150 cm⁻¹)", "x": 1118.8, "y": 2.19}]},
        "mark": {"type": "text", "align": "left", "baseline": "alphabetic", "fontSize": 12, "font": "Liberation Sans", "color": "#333333"},
        "encoding": {"text": {"field": "t"}}},
       {"data": {"values": [{"t": "(B)", "x": 1088.3, "y": 2.47}]},
        "mark": {"type": "text", "align": "left", "baseline": "alphabetic", "fontSize": 23, "fontWeight": "bold", "font": "Liberation Sans", "color": "black"},
        "encoding": {"text": {"field": "t"}}}
      ]
     },
     {
      "width": 310, "height": 247,
      "title": {"text": "Carbonyl Group", "fontSize": 24, "fontWeight": "bold", "anchor": "middle", "frame": "group", "baseline": "alphabetic", "offset": -33},
      "encoding": {
       "x": {"field": "x", "type": "quantitative", "scale": {"domain": [1300, 1900], "nice": false, "zero": false},
        "axis": {"title": "Wavenumber (cm⁻¹)", "values": [1300,1350,1400,1450,1500,1550,1600,1650,1700,1750,1800,1850,1900], "format": "d", "labelExpr": "datum.value % 100 === 0 ? datum.label : ''", "labelFontSize": 14, "titleFontSize": 23, "tickSize": 5, "tickWidth": 1.5, "labelPadding": 3, "titlePadding": 3}},
       "y": {"field": "y", "type": "quantitative", "scale": {"domain": [0, 2.47], "nice": false, "zero": false},
        "axis": {"title": "Absorbance (a.u.)", "titleFontSize": 23, "labels": false, "ticks": false, "titleY": 138, "titlePadding": 6}}
      },
      "layer": [
       {"data": {"name": "C_lines"},
        "mark": {"type": "line", "strokeWidth": 2, "interpolate": "monotone"},
        "encoding": {
         "color": {"field": "s", "type": "nominal", "legend": null, "scale": {"domain": ["1Fe-PC","1Fe","0.1Fe-PC","0.1Fe","0.01Fe-PC","0.01Fe","TiAP-PC","TiAP"], "range": ["#D247D2","#DD2EDD","#3C3CA6","#1E1EC4","#C94848","#D42626","#222222","#000000"]}},
         "strokeDash": {"field": "s", "type": "nominal", "legend": null, "scale": {"domain": ["1Fe-PC","1Fe","0.1Fe-PC","0.1Fe","0.01Fe-PC","0.01Fe","TiAP-PC","TiAP"], "range": [[2,2],[1,0],[2,2],[1,0],[2,2],[1,0],[2,2],[1,0]]}}
        }},
       {"data": {"values": [{"x": 1715.5, "x2": 1773.8, "y": 0.02, "y2": 2.31}]},
        "mark": {"type": "rect", "fill": "transparent", "stroke": "#8C3CD6", "strokeWidth": 2.5},
        "encoding": {"x2": {"field": "x2"}, "y2": {"field": "y2"}}},
       {"data": {"values": [{"t": "Carbonyl Group (1740 cm⁻¹)", "x": 1589.3, "y": 2.34}]},
        "mark": {"type": "text", "align": "left", "baseline": "alphabetic", "fontSize": 12, "font": "Liberation Sans", "color": "#333333"},
        "encoding": {"text": {"field": "t"}}},
       {"data": {"values": [{"t": "(C)", "x": 1220.4, "y": 2.47}]},
        "mark": {"type": "text", "align": "left", "baseline": "alphabetic", "fontSize": 23, "fontWeight": "bold", "font": "Liberation Sans", "color": "black"},
        "encoding": {"text": {"field": "t"}}}
      ]
     }
    ],
    "resolve": {"scale": {"color": "independent", "strokeDash": "independent"}}
   },
   {
    "spacing": 26,
    "hconcat": [
     {"width": 100, "height": 10, "view": {"stroke": "transparent"}, "data": {"values": []}, "mark": "point"},
     {
      "width": 302, "height": 242,
      "title": {"text": "Reference Peak", "fontSize": 24, "fontWeight": "bold", "anchor": "middle", "frame": "group", "baseline": "alphabetic", "offset": -30},
      "encoding": {
       "x": {"field": "x", "type": "quantitative", "scale": {"domain": [2800, 3000], "nice": false, "zero": false},
        "axis": {"title": "Wavenumber (cm⁻¹)", "values": [2800,2825,2850,2875,2900,2925,2950,2975,3000], "format": "d", "labelExpr": "datum.value % 50 === 0 ? datum.label : ''", "labelFontSize": 14, "titleFontSize": 21, "tickSize": 5, "tickWidth": 1.5, "labelPadding": 1, "titlePadding": 3}},
       "y": {"field": "y", "type": "quantitative", "scale": {"domain": [0, 2.42], "nice": false, "zero": false},
        "axis": {"title": "Absorbance (a.u.)", "titleFontSize": 22, "labels": false, "ticks": false, "titleY": 134, "titlePadding": 7}}
      },
      "layer": [
       {"data": {"name": "D_lines"},
        "mark": {"type": "line", "strokeWidth": 2, "interpolate": "monotone"},
        "encoding": {
         "color": {"field": "s", "type": "nominal", "legend": null, "scale": {"domain": ["D1","D2","D3","D4","D5","D6","D7","D8"], "range": ["#6F2C6F","#9545D5","#25255F","#2F8A2F","#DD2EDD","#1E1EC4","#D42626","#000000"]}}
        }},
       {"data": {"values": [{"x": 2830.5, "x2": 2864.2, "y": 0.02, "y2": 2.42}]},
        "mark": {"type": "rect", "fill": "transparent", "stroke": "#8C3CD6", "strokeWidth": 2.5},
        "encoding": {"x2": {"field": "x2"}, "y2": {"field": "y2"}}},
       {"data": {"values": [{"t": "Reference Group (2850 cm⁻¹)", "x": 2867.5, "y": 2.30}]},
        "mark": {"type": "text", "align": "left", "baseline": "alphabetic", "fontSize": 12, "font": "Liberation Sans", "color": "#333333"},
        "encoding": {"text": {"field": "t"}}},
       {"data": {"values": [{"t": "(D)", "x": 2773.5, "y": 2.38}]},
        "mark": {"type": "text", "align": "left", "baseline": "alphabetic", "fontSize": 23, "fontWeight": "bold", "font": "Liberation Sans", "color": "black"},
        "encoding": {"text": {"field": "t"}}}
      ]
     }
    ],
    "resolve": {"scale": {"color": "independent", "strokeDash": "independent"}}
   }
  ],
  "resolve": {"scale": {"color": "independent", "strokeDash": "independent"}}
 }
],
"spacing": -22,
"resolve": {"scale": {"color": "independent", "strokeDash": "independent"}}
}
